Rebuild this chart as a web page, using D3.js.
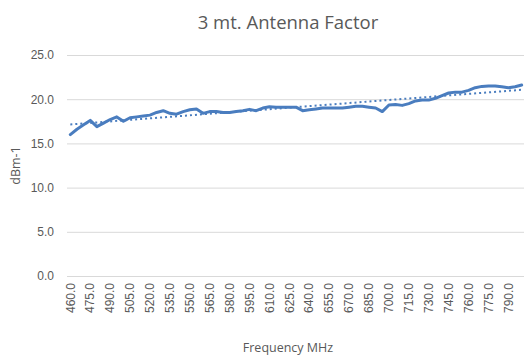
<!DOCTYPE html>
<html>
<head>
<meta charset="utf-8">
<script src="https://cdn.jsdelivr.net/npm/d3@7"></script>
<style>
  html, body { margin: 0; padding: 0; background: #fff; }
  svg { display: block; font-family: "Open Sans", "Liberation Sans", sans-serif; }
</style>
</head>
<body>
<svg id="chart" width="524" height="358"></svg>
<script>
// Frequencies (MHz), 5 MHz steps
const frequencies = d3.range(460, 801, 5);
// Antenna factor at 3 m (dB/m)
const antennaFactor = [
  16.0, 16.6, 17.1, 17.6, 16.9, 17.3, 17.7, 18.0, 17.5, 17.9,
  18.0, 18.1, 18.2, 18.5, 18.7, 18.4, 18.3, 18.6, 18.8, 18.9,
  18.4, 18.6, 18.6, 18.5, 18.5, 18.6, 18.7, 18.85, 18.7, 19.0,
  19.15, 19.1, 19.1, 19.1, 19.1, 18.7, 18.8, 18.9, 19.0, 19.0,
  19.0, 19.0, 19.1, 19.2, 19.2, 19.1, 19.0, 18.6, 19.35, 19.4,
  19.3, 19.5, 19.8, 19.9, 19.9, 20.1, 20.4, 20.7, 20.8, 20.8,
  21.0, 21.3, 21.45, 21.5, 21.5, 21.4, 21.3, 21.4, 21.6
];
const yTicks = [0, 5, 10, 15, 20, 25];
const labelStep = 3;

const svg = d3.select("#chart");
const margin = { left: 67, right: 0, top: 55, bottom: 82 };
const W = 524, H = 358;

const x = d3.scaleBand()
  .domain(frequencies)
  .range([margin.left, W - margin.right + 1])
  .paddingInner(0).paddingOuter(0);
const y = d3.scaleLinear().domain([0, 25]).range([H - margin.bottom, margin.top]);

const grey = "#595959";
const blue = "#4a7dbf";

// Title
svg.append("text")
  .attr("x", 288).attr("y", 29)
  .attr("text-anchor", "middle")
  .attr("font-size", 18.5)
  .attr("fill", grey)
  .text("3 mt. Antenna Factor");

// Horizontal gridlines + y tick labels
const yAxis = d3.axisLeft(y).tickValues(yTicks).tickFormat(d3.format(".1f"))
  .tickSize(-(W - margin.left)).tickPadding(13);
const gy = svg.append("g").attr("transform", `translate(${margin.left},0)`).call(yAxis);
gy.select(".domain").remove();
gy.selectAll(".tick line").attr("stroke", "#d9d9d9").attr("stroke-width", 1);
gy.selectAll(".tick text").attr("fill", grey).attr("font-size", 12);

// x tick labels (every third category, rotated)
const xAxis = d3.axisBottom(x)
  .tickValues(frequencies.filter((d, i) => i % labelStep === 0))
  .tickFormat(d3.format(".1f"))
  .tickSize(0);
const gx = svg.append("g").attr("transform", `translate(0,${y(0)})`).call(xAxis);
gx.select(".domain").remove();
gx.selectAll(".tick text")
  .attr("fill", grey).attr("font-size", 12)
  .attr("transform", "rotate(-90)")
  .attr("text-anchor", "end")
  .attr("x", -7).attr("y", 0).attr("dy", "0.35em");

// Axis titles
svg.append("text")
  .attr("transform", `translate(20,${(margin.top + y(0)) / 2}) rotate(-90)`)
  .attr("text-anchor", "middle")
  .attr("font-size", 12.5).attr("fill", grey)
  .text("dBm-1");
svg.append("text")
  .attr("x", 288).attr("y", 352)
  .attr("text-anchor", "middle")
  .attr("font-size", 12.5).attr("fill", grey)
  .text("Frequency MHz");

const cx = d => x(d) + x.bandwidth() / 2;

// Data line
const pts = frequencies.map((f, i) => [f, antennaFactor[i]]);
svg.append("path")
  .datum(pts)
  .attr("fill", "none")
  .attr("stroke", blue)
  .attr("stroke-width", 3)
  .attr("stroke-linejoin", "round")
  .attr("stroke-linecap", "round")
  .attr("d", d3.line().x(d => cx(d[0])).y(d => y(d[1])));

// Linear trendline (least squares over category index)
const n = antennaFactor.length;
const idx = d3.range(n);
const mx = d3.mean(idx), my = d3.mean(antennaFactor);
const slope = d3.sum(idx, i => (i - mx) * (antennaFactor[i] - my)) / d3.sum(idx, i => (i - mx) ** 2);
const icpt = my - slope * mx;
const trend = [[frequencies[0], icpt], [frequencies[n - 1], icpt + slope * (n - 1)]];
svg.append("path")
  .datum(trend)
  .attr("fill", "none")
  .attr("stroke", blue)
  .attr("stroke-width", 2)
  .attr("stroke-dasharray", "2,3")
  .attr("d", d3.line().x(d => cx(d[0])).y(d => y(d[1])));
</script>
</body>
</html>
